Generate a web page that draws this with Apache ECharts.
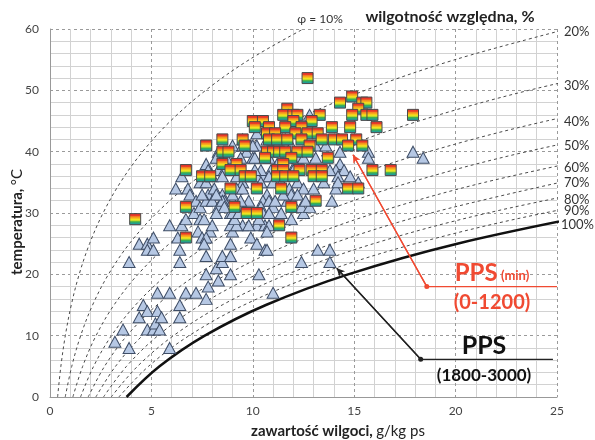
<!DOCTYPE html>
<html><head><meta charset="utf-8">
<script src="https://cdn.jsdelivr.net/npm/echarts@6/dist/echarts.min.js"></script>
<style>html,body{margin:0;padding:0;background:#fff}#c{width:595px;height:440px}</style>
</head><body><div id="c"></div>
<script>
// relative-humidity curves: moisture content (g/kg) read at these temperatures (°C)
const rhTemps = [0,5,10,15,20,25,30,35,40,45,50,55,60];
const rh10 = [0.375,0.536,0.755,1.049,1.439,1.951,2.617,3.474,4.566,5.943,7.677,9.826,12.49];
const rh20 = [0.751,1.073,1.512,2.100,2.884,3.915,5.258,6.987,9.200,12.005,15.54,19.97,25.50];
const rh30 = [1.128,1.611,2.270,3.156,4.338,5.891,7.921,10.54,13.90,18.19,23.61,30.44];
const rh40 = [1.505,2.150,3.031,4.215,5.797,7.882,10.60,14.13,18.68,24.48,31.9];
const rh50 = [1.882,2.690,3.793,5.278,7.265,9.884,13.31,17.77,23.51,30.9];
const rh60 = [2.260,3.231,4.556,6.344,8.737,11.89,16.05,21.44,28.4];
const rh70 = [2.638,3.772,5.322,7.415,10.21,13.92,18.79,25.17];
const rh80 = [3.017,4.314,6.090,8.487,11.70,15.95,21.58,28.9];
const rh90 = [3.395,4.857,6.858,9.564,13.19,18.01,24.38,32.7];
const rh100 = [3.775,5.403,7.631,10.646,14.70,20.08,27.2];
const rhLabels = ['20%','30%','40%','50%','60%','70%','80%','90%','100%'];

// PPS (min) 0-1200 : squares [x g/kg, T °C]
const ppsMin = [
[12.7,52],[14.9,49],[14.3,48],[15.4,48],[15.6,48],[15.2,47],[11.7,47],[14.9,46],[15.6,46],[15.9,46],
[17.9,46],[13.3,46],[11.5,46],[12.0,46],[12.2,46],[10.0,45],[10.5,45],[12.0,45],[12.9,45],[10.1,44],
[10.8,44],[11.6,44],[12.4,44],[13.9,44],[14.8,44],[16.1,44],[10.7,43],[11.1,43],[12.1,43],[12.7,43],
[13.2,43],[7.7,41],[8.5,42],[9.5,42],[10.8,42],[11.2,42],[11.7,42],[12.4,42],[13.4,42],[14.0,42],
[14.4,42],[15.1,42],[9.6,41],[12.8,41],[14.7,41],[15.4,41],[8.5,40],[8.8,40],[10.7,40],[11.0,40],
[11.3,40],[11.6,40],[12.2,40],[12.7,40],[10.6,39],[11.9,39],[13.7,39],[8.5,38],[9.2,38],[11.5,38],
[6.7,37],[8.9,37],[9.4,37],[11.2,37],[11.5,37],[12.3,37],[12.9,37],[13.4,37],[15.9,37],[16.8,37],
[7.5,36],[7.9,36],[9.6,36],[9.9,36],[11.2,36],[11.6,36],[12.0,36],[13.0,36],[13.4,36],[8.9,34],
[10.2,34],[11.4,34],[14.7,34],[15.2,34],[13.1,32],[6.7,31],[9.1,31],[11.9,31],[9.7,30],[10.2,30],
[4.2,29],[11.3,28],[6.7,26],[11.9,26]
];
// PPS 1800-3000 : triangles [x g/kg, T °C]
const ppsHigh = [
[3.2,9],[3.9,8],[3.6,11],[4.4,13],[4.6,15],[4.8,11],[5.1,11],[5.2,12],[5.4,11],[4.8,14],
[5.3,14],[5.5,13],[5.3,17],[5.9,17],[6.4,15],[6.4,13],[5.9,8],[6.7,17],[7.2,17],[7.7,16],
[7.8,18],[7.7,20],[8.3,19],[8.2,21],[8.5,22],[8.5,23],[8.9,23],[8.9,20],[8.9,25],[7.7,23],
[6.4,22],[3.9,22],[4.4,25],[4.8,25],[4.8,24],[5.1,24],[5.1,26],[6.4,24],[6.3,26],[6.5,28],
[5.9,28],[7.3,27],[7.9,27],[7.5,26],[7.7,26],[9.9,26],[10.2,25],[10.6,24],[10.7,24],[10.3,20],
[11.0,17],[10.2,28],[10.6,28],[10.8,28],[9.5,28],[9.8,28],[9.0,27],[8.9,28],[8.0,28],[7.6,25],
[12.4,22],[13.2,24],[13.8,24],[13.8,22],[10.7,27],[9.2,28],[10.3,29],[11.9,29],[12.5,30],[8.9,30],
[9.1,29],[6.7,29],[7.1,30],[7.4,29],[7.6,29],
[6.5,36],[6.2,34],[6.8,34],[6.9,33],[7.7,38],[7.8,37],[7.4,35],[7.7,35],[8.0,36],[7.8,33],
[8.1,34],[8.3,37],[8.5,39],[9.0,41],[9.5,42],[9.7,40],[9.9,41],[10.2,41],[10.0,39],[9.5,35],
[9.8,36],[9.2,34],[8.5,33],[7.2,32],[7.4,31],[7.7,32],[8.0,32],[7.5,33],[8.6,32],[9.0,32],
[8.3,31],[9.4,31],[10.7,33],[10.5,32],[10.8,32],[11.0,31],[10.4,31],[8.2,30],[9.0,30],[9.3,30],
[10.5,30],[10.8,30],[11.4,30],[11.4,35],[11.8,34],[11.2,38],[10.9,37],[10.5,36],[10.2,36],[10.4,37],
[10.8,39],[10.7,42],[11.0,42],[10.2,43],[11.6,42],[11.9,41],[12.2,39],[12.1,38],[12.0,37],[12.2,35],
[11.7,32],[11.9,33],[12.8,46],[10.0,41],[8.3,40],[10.1,39],[8.2,39],[9.4,39],[12.5,39],[13.1,39],
[8.6,37],[10.1,37],[10.8,36],[8.5,36],[9.2,36],[12.5,34],[13.0,34],[13.5,35],[12.2,33],[11.5,33],
[9.8,32],[9.4,32],[9.0,33],[8.5,32],[8.6,31],[8.2,33],[9.5,34],[10.4,35],[11.0,35],[12.1,31],
[12.4,31],[12.8,31],[11.1,32],[13.1,41],[13.6,41],[14.3,40],[15.7,40],[15.7,39],[17.9,40],[18.4,39],
[14.3,38],[14.1,37],[13.8,37],[14.5,37],[14.2,36],[14.8,36],[15.2,35],[14.1,34],[14.2,35],[13.9,32],
[12.6,32],[9.5,41],[8.7,39]
];
// annotation leader lines [x, T]: arrow tip, elbow, end
const redLeader = [[14.94,39.5],[18.58,18.0],[25,18.0]];
const blackLeader = [[14.14,21.0],[18.28,6.15],[24.8,6.15]];

const chart = echarts.init(document.getElementById('c'), null, {renderer:'canvas'});
const FONT = 'Lato, "Open Sans", sans-serif';
const zip = arr => arr.map((x,i)=>[x, rhTemps[i]]);
const dashedCurves = [rh10,rh20,rh30,rh40,rh50,rh60,rh70,rh80,rh90].map(a=>({
  type:'line', data: zip(a), smooth:0.35, symbol:'none', silent:true, z:2,
  lineStyle:{color:'#4a4a4a', width:1, type:[3,3]}
}));
const satCurve = {type:'line', data: zip(rh100), smooth:0.35, symbol:'none', silent:true, z:3,
  lineStyle:{color:'#111', width:2.5}};

const sqColor = new echarts.graphic.LinearGradient(0,0,0,1,[
  {offset:0,color:'#e52d2a'},{offset:0.2,color:'#ea3b28'},
  {offset:0.3,color:'#f58a1f'},{offset:0.42,color:'#f8b21c'},
  {offset:0.52,color:'#f5e51c'},{offset:0.62,color:'#c6dc2a'},
  {offset:0.72,color:'#3fb14a'},{offset:0.84,color:'#23a38a'},
  {offset:1,color:'#1a8fc0'}]);

function leader(pts, color){
  return {type:'line', z:10, silent:true, showAllSymbol:true, symbol:'none',
    data: pts.map((p,i)=> i===1 ? {value:p, symbol:'circle', symbolSize:5} : {value:p}),
    lineStyle:{color:color, width:1.3}, itemStyle:{color:color},
    markLine:{silent:true, symbol:['none','arrow'], symbolSize:[6,8], label:{show:false},
      lineStyle:{color:color, width:1.3, type:'solid'},
      data:[[{coord:pts[1]},{coord:pts[0]}]]}
  };
}

const rhY = [33,87,123,147,169,184,201,212,226];
const graphics = rhLabels.map((t,i)=>({type:'text', left: i===8?561:564, top: rhY[i]-8,
  style:{text:t, font:'13px '+FONT, fill:'#333'}}));
graphics.push(
  {type:'text', x:320, y:19, style:{text:'φ = 10%', font:'12px '+FONT, fill:'#333', align:'center', verticalAlign:'middle'}},
  {type:'text', x:450, y:17, style:{text:'wilgotność względna, %', font:'bold 16px '+FONT, fill:'#222', align:'center', verticalAlign:'middle'}},
  {type:'text', x:17, y:222, rotation:Math.PI/2, style:{text:'{b|temperatura,} {n|°C}', align:'center', verticalAlign:'middle',
     rich:{b:{font:'bold 15px '+FONT, fill:'#222'}, n:{font:'15px '+FONT, fill:'#222'}}}},
  {type:'text', x:338, y:431, style:{text:'{b|zawartość wilgoci,} {n|g/kg ps}', align:'center', verticalAlign:'middle',
     rich:{b:{font:'bold 15px '+FONT, fill:'#222'}, n:{font:'15px '+FONT, fill:'#222'}}}},
  {type:'text', x:492, y:273, z:20, style:{text:'{a|PPS} {s|(min)}', align:'center', verticalAlign:'middle',
     rich:{a:{font:'bold 24px '+FONT, fill:'#f04a32'}, s:{font:'bold 13px '+FONT, fill:'#f04a32', padding:[6,0,0,0]}}}},
  {type:'text', x:492, y:303, z:20, style:{text:'(0-1200)', font:'bold 20px '+FONT, fill:'#f04a32', align:'center', verticalAlign:'middle'}},
  {type:'text', x:484, y:346, z:20, style:{text:'PPS', font:'bold 25px '+FONT, fill:'#111', align:'center', verticalAlign:'middle'}},
  {type:'text', x:484, y:376, z:20, style:{text:'(1800-3000)', font:'bold 17px '+FONT, fill:'#111', align:'center', verticalAlign:'middle'}}
);

chart.setOption({
  animation:false,
  backgroundColor:'#fff',
  grid:{left:50, right:38, top:29, bottom:43},
  xAxis:{type:'value', min:0, max:25, interval:5,
    axisLine:{lineStyle:{color:'#999'}}, axisTick:{show:false},
    axisLabel:{color:'#444', fontSize:12, fontFamily:FONT, margin:8},
    splitLine:{lineStyle:{color:'#9a9a9a', type:[3,3]}},
    minorTick:{show:false, splitNumber:5},
    minorSplitLine:{show:true, lineStyle:{color:'#d2d2d2', width:1}}},
  yAxis:{type:'value', min:0, max:60, interval:10,
    axisLine:{show:true, lineStyle:{color:'#999'}}, axisTick:{show:false},
    axisLabel:{color:'#444', fontSize:12, fontFamily:FONT, margin:11},
    splitLine:{lineStyle:{color:'#9a9a9a', type:[3,3]}},
    minorTick:{show:false, splitNumber:5},
    minorSplitLine:{show:true, lineStyle:{color:'#d2d2d2', width:1}}},
  graphic: graphics,
  series: [
    ...dashedCurves, satCurve,
    {type:'scatter', data: ppsHigh, symbol:'triangle', symbolSize:[12,11], z:5,
      itemStyle:{color:'#b6c8e4', borderColor:'#3e4d66', borderWidth:1, opacity:1}},
    {type:'scatter', data: ppsMin, symbol:'rect', symbolSize:[11,11], z:6,
      itemStyle:{color:sqColor, borderColor:'#4a4a4a', borderWidth:1, opacity:1}},
    leader(redLeader, '#f04a32'),
    leader(blackLeader, '#222')
  ]
});
</script></body></html>
